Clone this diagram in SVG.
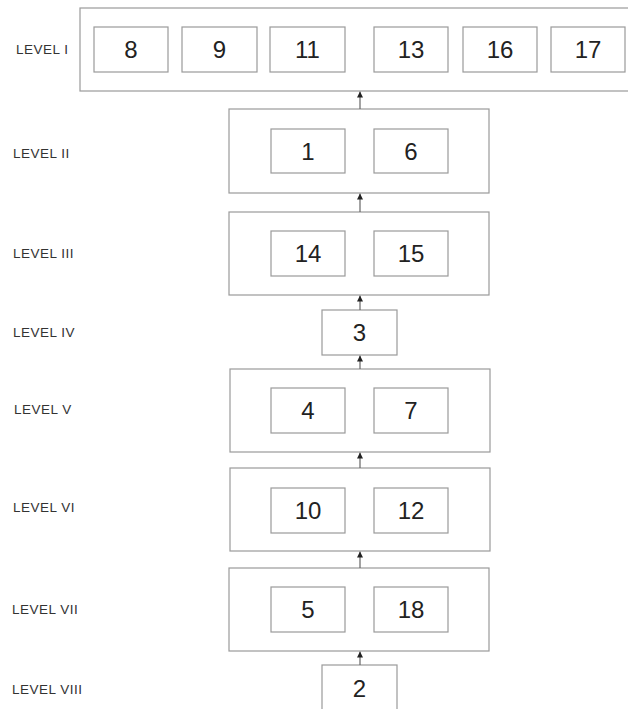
<svg xmlns="http://www.w3.org/2000/svg" width="628" height="709" viewBox="0 0 628 709">
<defs>
<marker id="ah" viewBox="0 0 6 6" refX="6" refY="3" markerWidth="6" markerHeight="6" orient="auto" markerUnits="userSpaceOnUse">
<path d="M0,0 L6,3 L0,6 Z" fill="#222"/>
</marker>
</defs>
<style>
.outer{fill:#fff;stroke:#9a9a9a;stroke-width:1.2}
.inner{fill:#fff;stroke:#9a9a9a;stroke-width:1.2}
.num{font-family:"Liberation Sans",Arial,sans-serif;font-size:24px;fill:#222;text-anchor:middle;dominant-baseline:central}
.lbl{font-family:"Liberation Sans",Arial,sans-serif;font-size:13.5px;letter-spacing:0.5px;fill:#333;dominant-baseline:central}
.conn{stroke:#666;stroke-width:1.2;fill:none}
</style>
<rect width="628" height="709" fill="#fff"/>
<g id="labels">
<text class="lbl" x="16" y="49">LEVEL I</text>
<text class="lbl" x="13" y="153">LEVEL II</text>
<text class="lbl" x="13" y="253">LEVEL III</text>
<text class="lbl" x="13" y="332">LEVEL IV</text>
<text class="lbl" x="14" y="409">LEVEL V</text>
<text class="lbl" x="13" y="507">LEVEL VI</text>
<text class="lbl" x="12" y="609">LEVEL VII</text>
<text class="lbl" x="12" y="689">LEVEL VIII</text>
</g>
<g id="level1">
<rect class="outer" x="80" y="8" width="560" height="83"/>
<g id="n8"><rect class="inner" x="94" y="27" width="74" height="45"/><text class="num" x="131" y="49.5">8</text></g>
<g id="n9"><rect class="inner" x="182" y="27" width="75" height="45"/><text class="num" x="219.5" y="49.5">9</text></g>
<g id="n11"><rect class="inner" x="270" y="27" width="75" height="45"/><text class="num" x="307.5" y="49.5">11</text></g>
<g id="n13"><rect class="inner" x="374" y="27" width="74" height="45"/><text class="num" x="411" y="49.5">13</text></g>
<g id="n16"><rect class="inner" x="463" y="27" width="74" height="45"/><text class="num" x="500" y="49.5">16</text></g>
<g id="n17"><rect class="inner" x="551" y="27" width="74" height="45"/><text class="num" x="588" y="49.5">17</text></g>
</g>
<g id="level2">
<rect class="outer" x="229" y="109" width="260" height="84"/>
<g id="n1"><rect class="inner" x="271" y="129" width="74" height="44"/><text class="num" x="308" y="151">1</text></g>
<g id="n6"><rect class="inner" x="374" y="129" width="74" height="44"/><text class="num" x="411" y="151">6</text></g>
</g>
<g id="level3">
<rect class="outer" x="229" y="212" width="260" height="83"/>
<g id="n14"><rect class="inner" x="271" y="231" width="74" height="45"/><text class="num" x="308" y="253.5">14</text></g>
<g id="n15"><rect class="inner" x="374" y="231" width="74" height="45"/><text class="num" x="411" y="253.5">15</text></g>
</g>
<g id="n3"><rect class="inner" x="322" y="310" width="75" height="45"/><text class="num" x="359.5" y="332.5">3</text></g>
<g id="level5">
<rect class="outer" x="230" y="369" width="260" height="83"/>
<g id="n4"><rect class="inner" x="271" y="388" width="74" height="45"/><text class="num" x="308" y="410.5">4</text></g>
<g id="n7"><rect class="inner" x="374" y="388" width="74" height="45"/><text class="num" x="411" y="410.5">7</text></g>
</g>
<g id="level6">
<rect class="outer" x="230" y="468" width="260" height="83"/>
<g id="n10"><rect class="inner" x="271" y="488" width="74" height="45"/><text class="num" x="308" y="510.5">10</text></g>
<g id="n12"><rect class="inner" x="374" y="488" width="74" height="45"/><text class="num" x="411" y="510.5">12</text></g>
</g>
<g id="level7">
<rect class="outer" x="229" y="568" width="260" height="83"/>
<g id="n5"><rect class="inner" x="271" y="587" width="74" height="45"/><text class="num" x="308" y="609.5">5</text></g>
<g id="n18"><rect class="inner" x="374" y="587" width="74" height="45"/><text class="num" x="411" y="609.5">18</text></g>
</g>
<g id="n2"><rect class="inner" x="322" y="665" width="75" height="60"/><text class="num" x="359.5" y="688">2</text></g>
<g id="connectors">
<line class="conn" x1="360" y1="109" x2="360" y2="91.5" marker-end="url(#ah)"/>
<line class="conn" x1="360" y1="212" x2="360" y2="193.5" marker-end="url(#ah)"/>
<line class="conn" x1="360" y1="310" x2="360" y2="295.5" marker-end="url(#ah)"/>
<line class="conn" x1="360" y1="369" x2="360" y2="355.5" marker-end="url(#ah)"/>
<line class="conn" x1="360" y1="468" x2="360" y2="452.5" marker-end="url(#ah)"/>
<line class="conn" x1="360" y1="568" x2="360" y2="551.5" marker-end="url(#ah)"/>
<line class="conn" x1="360" y1="665" x2="360" y2="651.5" marker-end="url(#ah)"/>
</g>
</svg>
